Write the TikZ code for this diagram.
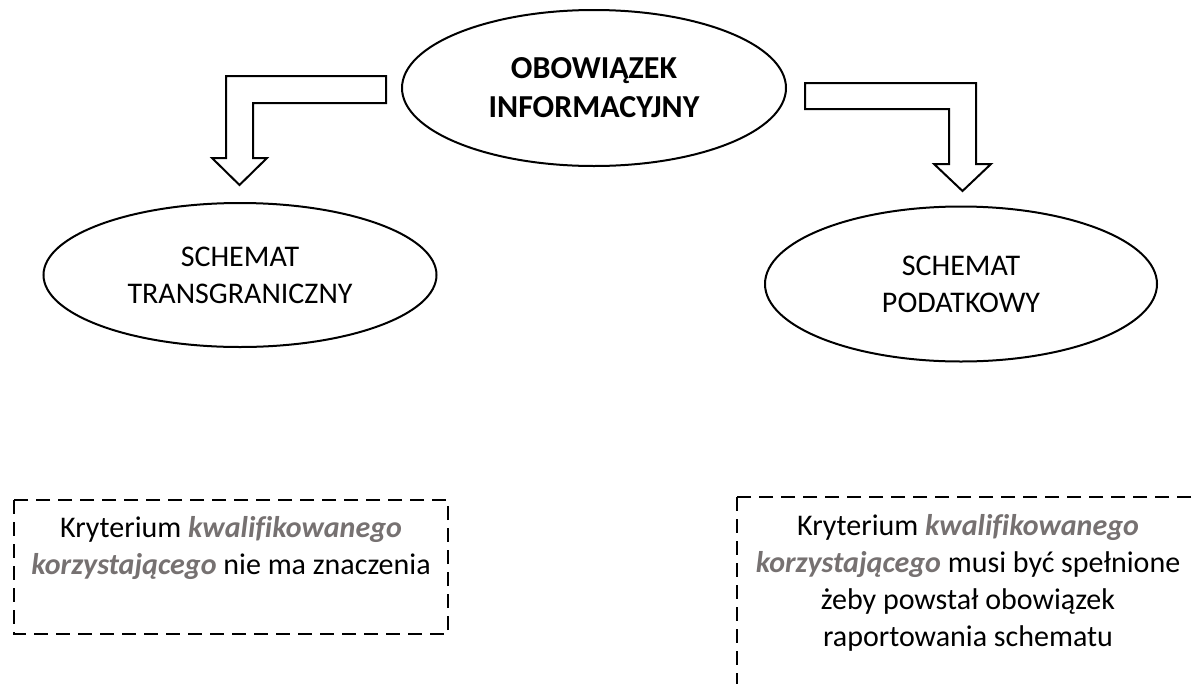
\documentclass[tikz,border=0pt]{standalone}
\usepackage{fontspec}
\setmainfont[Ligatures=NoCommon]{Carlito}
\usetikzlibrary{shapes.geometric}
\definecolor{kwgray}{RGB}{118,113,113}
\tikzset{
  oval/.style={draw=black, line width=2pt, ellipse, inner sep=0pt, align=center,
    font=\fontsize{30}{37}\selectfont},
  blockarrow/.style={draw=black, fill=white, line width=2pt, line join=miter},
  dbox/.style={draw=black, line width=2pt, dash pattern=on 14pt off 8pt},
  boxtext/.style={align=center, inner sep=0pt, font=\fontsize{30}{37}\selectfont},
}
\newcommand{\kw}[1]{{\color{kwgray}\bfseries\itshape #1}}
\begin{document}
\begin{tikzpicture}[x=1pt, y=-1pt]
\clip (0,0) rectangle (1199,683);
\fill[white] (0,0) rectangle (1199,683);
% ellipses
\node[oval, minimum width=384pt, minimum height=156pt, font=\fontsize{32}{39}\selectfont\bfseries] (top) at (594,88)
  {OBOWIĄZEK\\INFORMACYJNY};
\node[oval, minimum width=393pt, minimum height=144pt] (left) at (240,275)
  {SCHEMAT\\TRANSGRANICZNY};
\node[oval, minimum width=392pt, minimum height=155pt] (right) at (961,284)
  {SCHEMAT\\PODATKOWY};
% block arrows
\draw[blockarrow] (386,76) -- (226,76) -- (226,158) -- (212,158) -- (239.5,185)
  -- (267,158) -- (253,158) -- (253,103) -- (386,103) -- cycle;
\draw[blockarrow] (805,83) -- (976,83) -- (976,164) -- (991,164) -- (962.5,191)
  -- (934,164) -- (949,164) -- (949,109) -- (805,109) -- cycle;
% dashed boxes
\draw[dbox] (14,500) rectangle (448,634);
\draw[dbox] (737,497) rectangle (1201,700);
\node[boxtext] (ltext) at (231,548)
  {Kryterium \kw{kwalifikowanego}\\\kw{korzystającego} nie ma znaczenia};
\node[boxtext] (rtext) at (968,583)
  {Kryterium \kw{kwalifikowanego}\\\kw{korzystającego} musi być spełnione\\żeby powstał obowiązek\\raportowania schematu};
\end{tikzpicture}
\end{document}
